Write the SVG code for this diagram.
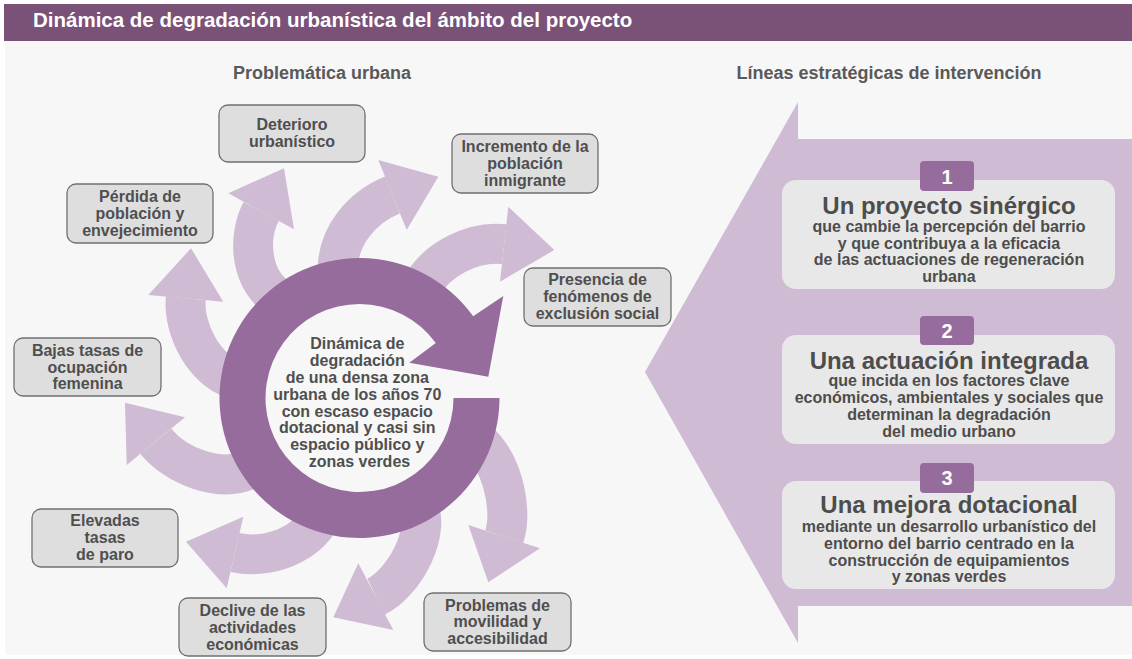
<svg xmlns="http://www.w3.org/2000/svg" width="1132" height="659" viewBox="0 0 1132 659">
<style>
text{font-family:"Liberation Sans",Arial,sans-serif;font-weight:bold;}
.bx{fill:#DEDEDE;stroke:#707070;stroke-width:1.3;}
.bt{font-size:16px;fill:#4F4F4F;text-anchor:middle;}
.band{fill:none;stroke:#CFBBD3;stroke-width:40;stroke-linecap:butt;}
.head{fill:#CFBBD3;}
.rb{fill:#E8E8E8;}
.badge{fill:#956C9C;}
.num{font-size:20px;fill:#FFFFFF;text-anchor:middle;}
.rt{font-size:24px;fill:#4D4D4D;text-anchor:middle;}
.rs{font-size:16px;fill:#4D4D4D;text-anchor:middle;}
.hd{font-size:18px;fill:#595959;text-anchor:middle;}
</style>
<rect x="0" y="0" width="1132" height="659" fill="#FFFFFF"/>
<rect x="5" y="4" width="1127" height="651" fill="#F7F7F7"/>
<g id="title">
<rect x="4" y="4" width="1128" height="37" fill="#7A5177"/>
<text x="33" y="27" font-size="20.5" fill="#FFFFFF">Dinámica de degradación urbanística del ámbito del proyecto</text>
</g>
<text class="hd" x="322" y="79">Problemática urbana</text>
<text class="hd" x="889" y="79">Líneas estratégicas de intervención</text>

<g id="big-arrow">
<polygon points="645,372 798,102 798,139 1132,139 1132,606 798,606 798,643" fill="#CFBBD3"/>
</g>

<g id="connectors">
<path class="band" d="M472,438 C500,452 514,508 504.2,536.7"/>
<polygon class="head" points="468.3,525 540,548.3 488.3,582.3"/>
<path class="band" d="M415,500 C435,530 403,584 375.8,596.7"/>
<polygon class="head" points="358.3,563.3 393.3,630 333.3,617.3"/>
<path class="band" d="M325,508 C310,548 264,559 235,552.5"/>
<polygon class="head" points="243.3,516.7 226.7,588.3 186,541.7"/>
<path class="band" d="M252,468 C220,485 174.6,464.6 155.8,441.2"/>
<polygon class="head" points="185,417.3 126.7,465 125,402.7"/>
<path class="band" d="M240,380 C205,375 182.7,328.2 185.8,298.3"/>
<polygon class="head" points="148.3,295 223.3,301.7 191,248.3"/>
<path class="band" d="M282,300 C250,283 247.1,237.7 261.2,211.3"/>
<polygon class="head" points="228.3,193.3 294,229.3 284,168.3"/>
<path class="band" d="M338,275 C335,235 364.6,206.1 392.5,195"/>
<polygon class="head" points="378.3,160 406.7,230 438.3,176.7"/>
<path class="band" d="M420,290 C435,258 474.4,240.8 504.2,244.2"/>
<polygon class="head" points="508.3,206.7 500,281.7 554.3,250"/>
</g>

<g id="center">
<path d="M499.5,398 A140,140 0 1 1 473.2,316.3 L503.3,296 L488.3,376.7 L409.3,362.7 L435.8,343.1 A94,94 0 1 0 453.5,398 Z" fill="#956C9C"/>
<text class="bt">
<tspan x="359.5" y="349">Dinámica de</tspan>
<tspan x="359.5" y="366">degradación</tspan>
<tspan x="359.5" y="383">de una densa zona</tspan>
<tspan x="359.5" y="399.5">urbana de los años 70</tspan>
<tspan x="359.5" y="416.5">con escaso espacio</tspan>
<tspan x="359.5" y="433">dotacional y casi sin</tspan>
<tspan x="359.5" y="450">espacio público y</tspan>
<tspan x="359.5" y="466.5">zonas verdes</tspan>
</text>
</g>

<g id="n-deterioro">
<rect class="bx" x="219" y="105" width="146" height="57" rx="9"/>
<text class="bt"><tspan x="292" y="130">Deterioro</tspan><tspan x="292" y="147">urbanístico</tspan></text>
</g>
<g id="n-perdida">
<rect class="bx" x="67" y="184" width="146" height="59" rx="9"/>
<text class="bt"><tspan x="140" y="202">Pérdida de</tspan><tspan x="140" y="219">población y</tspan><tspan x="140" y="236">envejecimiento</tspan></text>
</g>
<g id="n-incremento">
<rect class="bx" x="452" y="134" width="146" height="59" rx="9"/>
<text class="bt"><tspan x="525" y="152">Incremento de la</tspan><tspan x="525" y="169">población</tspan><tspan x="525" y="185.5">inmigrante</tspan></text>
</g>
<g id="n-presencia">
<rect class="bx" x="524" y="268" width="147" height="58" rx="9"/>
<text class="bt"><tspan x="597.5" y="285">Presencia de</tspan><tspan x="597.5" y="302">fenómenos de</tspan><tspan x="597.5" y="318.5">exclusión social</tspan></text>
</g>
<g id="n-bajas">
<rect class="bx" x="14" y="338" width="147" height="58" rx="9"/>
<text class="bt"><tspan x="87.5" y="356">Bajas tasas de</tspan><tspan x="87.5" y="372.5">ocupación</tspan><tspan x="87.5" y="389">femenina</tspan></text>
</g>
<g id="n-elevadas">
<rect class="bx" x="32" y="509" width="146" height="58" rx="9"/>
<text class="bt"><tspan x="105" y="526">Elevadas</tspan><tspan x="105" y="543">tasas</tspan><tspan x="105" y="560">de paro</tspan></text>
</g>
<g id="n-declive">
<rect class="bx" x="179" y="598" width="147" height="58" rx="9"/>
<text class="bt"><tspan x="252.5" y="616">Declive de las</tspan><tspan x="252.5" y="633">actividades</tspan><tspan x="252.5" y="649.5">económicas</tspan></text>
</g>
<g id="n-problemas">
<rect class="bx" x="424" y="593" width="147" height="58" rx="9"/>
<text class="bt"><tspan x="497.5" y="610.5">Problemas de</tspan><tspan x="497.5" y="627">movilidad y</tspan><tspan x="497.5" y="643.5">accesibilidad</tspan></text>
</g>

<g id="linea-1">
<rect class="rb" x="782" y="180" width="333" height="109" rx="14"/>
<rect class="badge" x="920" y="161" width="54" height="30" rx="4"/>
<text class="num" x="947" y="184">1</text>
<text class="rt" x="949" y="214">Un proyecto sinérgico</text>
<text class="rs"><tspan x="949" y="232">que cambie la percepción del barrio</tspan><tspan x="949" y="248.5">y que contribuya a la eficacia</tspan><tspan x="949" y="265">de las actuaciones de regeneración</tspan><tspan x="949" y="281.5">urbana</tspan></text>
</g>
<g id="linea-2">
<rect class="rb" x="782" y="335" width="333" height="109" rx="14"/>
<rect class="badge" x="920" y="316" width="54" height="29" rx="4"/>
<text class="num" x="947" y="338">2</text>
<text class="rt" x="949" y="369">Una actuación integrada</text>
<text class="rs"><tspan x="949" y="386">que incida en los factores clave</tspan><tspan x="949" y="402.5">económicos, ambientales y sociales que</tspan><tspan x="949" y="419.5">determinan la degradación</tspan><tspan x="949" y="436.5">del medio urbano</tspan></text>
</g>
<g id="linea-3">
<rect class="rb" x="782" y="481" width="333" height="108" rx="14"/>
<rect class="badge" x="920" y="463" width="54" height="30" rx="4"/>
<text class="num" x="947" y="485">3</text>
<text class="rt" x="949" y="513">Una mejora dotacional</text>
<text class="rs"><tspan x="949" y="531.5">mediante un desarrollo urbanístico del</tspan><tspan x="949" y="548.5">entorno del barrio centrado en la</tspan><tspan x="949" y="565.5">construcción de equipamientos</tspan><tspan x="949" y="582">y zonas verdes</tspan></text>
</g>
</svg>
